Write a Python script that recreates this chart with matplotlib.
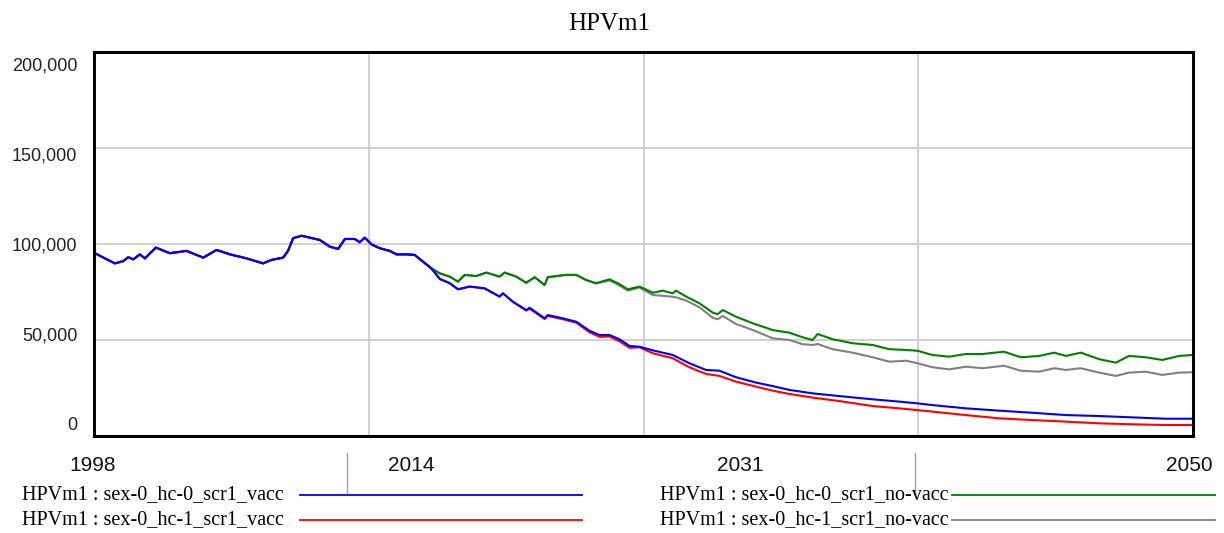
import matplotlib
matplotlib.use("Agg")
import matplotlib.pyplot as plt
from matplotlib.lines import Line2D
from matplotlib.transforms import ScaledTranslation

# ---- data ----
# common part (all four runs identical until ~2014)
shared_years = [1998.00, 1998.20, 1998.52, 1998.99, 1999.39, 1999.62, 1999.86, 2000.17,
                2000.41, 2000.65, 2000.93, 2001.20, 2001.59, 2002.38, 2003.17, 2003.80,
                2004.43, 2005.22, 2006.00, 2006.40, 2006.95, 2007.18, 2007.42, 2007.82,
                2008.21, 2008.68, 2009.16, 2009.55, 2009.87, 2010.34, 2010.57, 2010.81,
                2011.13, 2011.52, 2011.99, 2012.31, 2012.78, 2013.17, 2013.57, 2013.96]
shared_vals = [95500, 94300, 92500, 89900, 91100, 93100, 92000, 94600,
               92500, 95200, 98100, 96900, 95200, 96400, 92900, 96900,
               94600, 92500, 89900, 91700, 92900, 96400, 103000, 104300,
               103300, 102100, 98600, 97400, 102600, 102600, 100900, 103300,
               99800, 97800, 96400, 94600, 94600, 94300, 90800, 87300]

vacc_years = [2014.36, 2014.83, 2015.22, 2015.77, 2016.48, 2017.19, 2017.35, 2017.82,
              2018.45, 2018.61, 2019.32, 2019.47, 2020.18, 2020.82, 2021.45, 2021.92,
              2022.39, 2022.86, 2023.34, 2023.81, 2024.44, 2025.38, 2026.17, 2026.96,
              2027.59, 2028.38, 2029.33, 2030.11, 2030.90, 2032.00, 2033.26, 2034.84,
              2036.10, 2036.96, 2037.67, 2039.25, 2040.83, 2042.40, 2043.98, 2045.56,
              2047.13, 2048.71, 2050.00]
hc0_vacc = [81800, 79600, 76400, 77800, 76900, 72600, 74300, 69900,
            65600, 66800, 61300, 63000, 61300, 59500, 54800, 52600,
            52600, 50400, 46900, 46500, 44600, 42200, 37900, 34400,
            34000, 30600, 27800, 26000, 24000, 22200, 20800, 19100,
            17900, 17000, 16100, 14400, 13200, 12100, 10900, 10400,
            9700, 9000, 9000]
hc1_vacc = [81800, 79600, 76400, 77800, 76900, 72600, 74300, 69900,
            65300, 66300, 60900, 62500, 60800, 59000, 54000, 51600,
            51800, 49300, 45900, 46200, 43100, 40500, 35800, 32300,
            31300, 28300, 25700, 23600, 21900, 20000, 18200, 15600,
            14400, 13500, 12700, 10900, 9200, 8300, 7500, 6600,
            6100, 5700, 5700]

novacc_years = [2014.36, 2014.83, 2015.22, 2015.54, 2016.09, 2016.56, 2017.19, 2017.43,
                2017.98, 2018.45, 2018.85, 2019.32, 2019.47, 2020.34, 2020.82, 2021.29,
                2021.76, 2022.39, 2022.78, 2023.26, 2023.81, 2024.44, 2024.91, 2025.38,
                2025.54, 2026.02, 2026.65, 2027.28, 2027.51, 2027.75, 2028.38, 2029.17,
                2030.11, 2030.90, 2031.53, 2032.00, 2032.24, 2032.95, 2033.89, 2034.84,
                2035.63, 2036.42, 2036.96, 2037.67, 2038.46, 2039.25, 2040.04, 2041.06,
                2041.85, 2042.72, 2043.43, 2043.98, 2044.69, 2045.56, 2046.35, 2046.97,
                2047.76, 2048.55, 2049.34, 2050.00]
hc0_novacc = [84700, 83000, 80400, 83900, 83300, 85100, 83000, 85100,
              83000, 79800, 82700, 78600, 82700, 83900, 83900, 81200,
              79600, 81600, 79600, 76400, 77800, 74600, 75700, 74300,
              75700, 72600, 69100, 64200, 63500, 65600, 62100, 58700,
              55200, 53800, 51400, 50000, 53100, 50400, 48300, 47400,
              45200, 44800, 44400, 42200, 41300, 42700, 42700, 43900,
              41000, 41700, 43400, 41700, 43400, 40000, 38200, 41700,
              41000, 39600, 41700, 42200]
hc1_novacc = [84700, 83000, 80400, 83900, 83300, 85100, 83000, 85100,
              83000, 79800, 82700, 78600, 82700, 83900, 83900, 81200,
              79400, 81000, 78900, 75700, 77300, 73400, 73000, 72500,
              72200, 70500, 67000, 61500, 60800, 62500, 58300, 55200,
              50900, 50000, 47800, 47400, 47900, 45200, 43400, 41000,
              38700, 39200, 37900, 35800, 34700, 36100, 35300, 36600,
              34000, 33500, 35300, 34400, 35300, 33000, 31300, 33000,
              33500, 31800, 33000, 33200]

labels = ["HPVm1 : sex-0_hc-0_scr1_vacc", "HPVm1 : sex-0_hc-1_scr1_vacc",
          "HPVm1 : sex-0_hc-0_scr1_no-vacc", "HPVm1 : sex-0_hc-1_scr1_no-vacc"]
colors = ["#0000ff", "#ff0000", "#008000", "#808080"]

year_labels = ["1998", "2014", "2031", "2050"]
yticks = [0, 50000, 100000, 150000, 200000]

# ---- figure ----
fig = plt.figure(figsize=(12.24, 5.33), dpi=100)
ax = fig.add_axes([0.0768, 0.182, 0.8979, 0.7205])

series = [
    (vacc_years, hc0_vacc, colors[0]),
    (vacc_years, hc1_vacc, colors[1]),
    (novacc_years, hc0_novacc, colors[2]),
    (novacc_years, hc1_novacc, colors[3]),
]
# draw grey, green, red, blue so blue ends up on top
for yrs, vals, c in reversed(series):
    ax.plot(shared_years + yrs, shared_vals + vals, color=c, lw=1.5)

ax.set_xlim(1998, 2050)
ax.set_ylim(0, 200000)
ax.set_xticks([2011, 2024, 2037])
ax.set_yticks(yticks)
ax.set_yticklabels([f"{v:,}" for v in yticks], fontsize=13, family="Liberation Sans")
ax.tick_params(axis="x", length=0, labelbottom=False)
ax.tick_params(axis="y", length=0, pad=12, colors="#222222")
ax.grid(True, color="#c8c8c8", lw=1.2)
for sp in ax.spines.values():
    sp.set_linewidth(2.2)
    sp.set_color("black")

# vensim pushes the end labels inward
offsets = [9, 4, 0, -4, -9]
for lbl, dy in zip(ax.get_yticklabels(), offsets):
    lbl.set_transform(lbl.get_transform() + ScaledTranslation(0, dy / 72, fig.dpi_scale_trans))

fig.text(0.498, 0.955, "HPVm1", ha="center", va="center", fontsize=18, family="Liberation Serif")

# time axis strip
for lab, xf in zip(year_labels, [0.076, 0.336, 0.605, 0.972]):
    fig.text(xf, 0.126, lab, ha="center", va="center", fontsize=15, family="Liberation Sans",
             color="#111111")
for xf in [0.2835, 0.7475]:
    fig.add_artist(Line2D([xf, xf], [0.075, 0.150], transform=fig.transFigure, color="#a0a0a0", lw=1))

# legend
legend_pos = [(0.018, 0.245, 0.4755, 0.0713), (0.018, 0.245, 0.4755, 0.0244),
              (0.539, 0.778, 0.9926, 0.0713), (0.539, 0.778, 0.9926, 0.0244)]
for lab, c, (tx, x0, x1, y) in zip(labels, colors, legend_pos):
    fig.text(tx, y, lab, ha="left", va="center", fontsize=14.5, family="Liberation Serif")
    fig.add_artist(Line2D([x0, x1], [y, y], transform=fig.transFigure, color=c, lw=1.3))

plt.savefig("out.png", dpi=100)
